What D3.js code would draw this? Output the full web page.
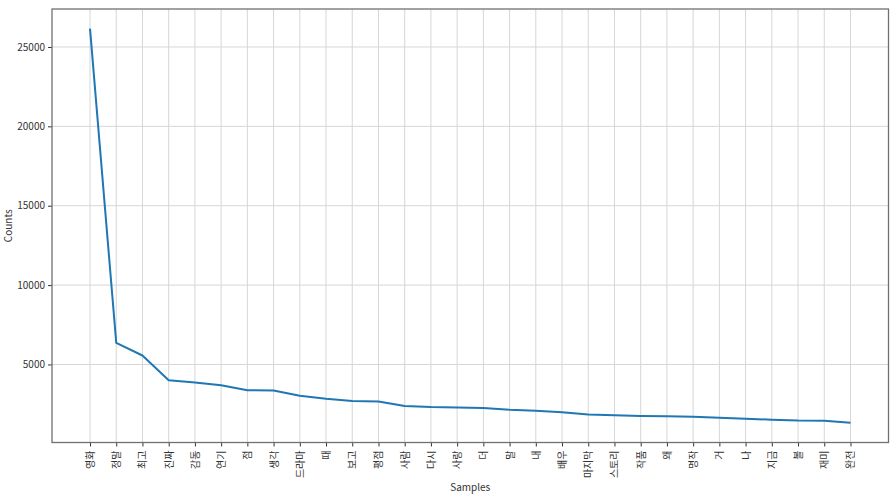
<!DOCTYPE html>
<html>
<head>
<meta charset="utf-8">
<script src="https://cdn.jsdelivr.net/npm/d3@7"></script>
<style>
  html, body { margin: 0; padding: 0; background: #fff; }
  text { font-family: "Noto Sans CJK KR", "Noto Sans", sans-serif; fill: #333; }
</style>
</head>
<body>
<svg id="chart" width="892" height="496"></svg>
<script>
const categories = ["영화","정말","최고","진짜","감동","연기","점","생각","드라마","때","보고","평점","사람","다시","사랑","더","말","내","배우","마지막","스토리","작품","왜","명작","거","나","지금","볼","재미","완전"];
const counts = [26150, 6356, 5563, 4000, 3856, 3690, 3375, 3360, 3025, 2837, 2700, 2660, 2381, 2319, 2294, 2250, 2144, 2081, 1994, 1844, 1800, 1756, 1737, 1712, 1650, 1587, 1519, 1465, 1456, 1325];
const yTicks = [5000, 10000, 15000, 20000, 25000];
const xLabel = "Samples";
const yLabel = "Counts";

const svg = d3.select("#chart");
const mLeft = 52, mRight = 888.5, mTop = 9, mBottom = 442.5;

const n = categories.length;
const xm = (n - 1) * 0.05;
const x = d3.scaleLinear().domain([-xm, n - 1 + xm]).range([mLeft, mRight]);
const ymin = d3.min(counts), ymax = d3.max(counts);
const ym = (ymax - ymin) * 0.05;
const y = d3.scaleLinear().domain([ymin - ym, ymax + ym]).range([mBottom, mTop]);

// grid
svg.append("g").selectAll("line").data(d3.range(n)).join("line")
  .attr("x1", d => x(d)).attr("x2", d => x(d))
  .attr("y1", mTop).attr("y2", mBottom)
  .attr("stroke", "#d6d6d6").attr("stroke-width", 1);
svg.append("g").selectAll("line").data(yTicks).join("line")
  .attr("x1", mLeft).attr("x2", mRight)
  .attr("y1", d => y(d)).attr("y2", d => y(d))
  .attr("stroke", "#d6d6d6").attr("stroke-width", 1);

// line
svg.append("path")
  .datum(counts)
  .attr("fill", "none")
  .attr("stroke", "#1f77b4")
  .attr("stroke-width", 2)
  .attr("stroke-linejoin", "round")
  .attr("d", d3.line().x((d, i) => x(i)).y(d => y(d)));

// axes
const xAxis = d3.axisBottom(x).tickValues(d3.range(n)).tickFormat(i => categories[i]).tickSize(4).tickPadding(3);
const gx = svg.append("g").attr("transform", `translate(0,${mBottom})`).call(xAxis);
gx.select(".domain").remove();
gx.selectAll(".tick line").attr("stroke", "#333");
gx.selectAll(".tick text")
  .attr("font-size", 10)
  .attr("transform", "rotate(-90)")
  .attr("text-anchor", "end")
  .attr("x", -8).attr("y", 0).attr("dy", "0.35em");

const yAxis = d3.axisLeft(y).tickValues(yTicks).tickFormat(d3.format("d")).tickSize(4).tickPadding(3);
const gy = svg.append("g").attr("transform", `translate(${mLeft},0)`).call(yAxis);
gy.select(".domain").remove();
gy.selectAll(".tick line").attr("stroke", "#333");
gy.selectAll(".tick text").attr("font-size", 10);

// frame
svg.append("rect")
  .attr("x", mLeft).attr("y", mTop)
  .attr("width", mRight - mLeft).attr("height", mBottom - mTop)
  .attr("fill", "none").attr("stroke", "#707070").attr("stroke-width", 1.3);

// labels
svg.append("text").attr("x", (mLeft + mRight) / 2).attr("y", 491)
  .attr("text-anchor", "middle").attr("font-size", 10).text(xLabel);
svg.append("text").attr("transform", `translate(12,${(mTop + mBottom) / 2}) rotate(-90)`)
  .attr("text-anchor", "middle").attr("font-size", 10).text(yLabel);
</script>
</body>
</html>
